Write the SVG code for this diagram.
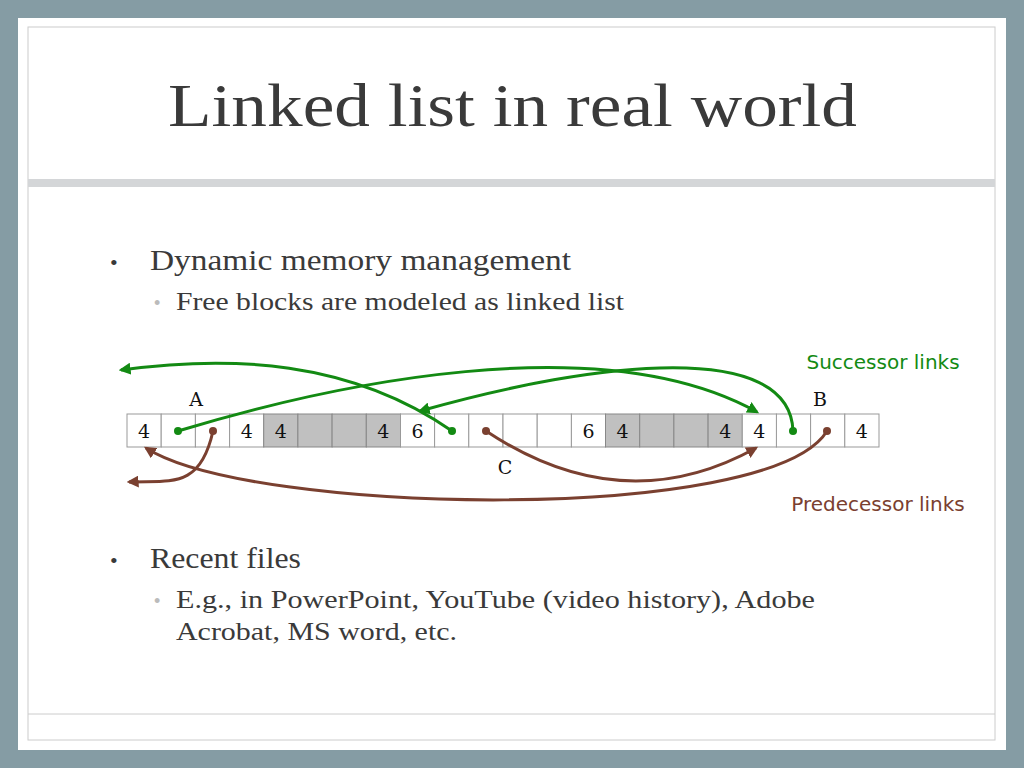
<svg xmlns="http://www.w3.org/2000/svg" width="1024" height="768" viewBox="0 0 1024 768">
<defs>
<style>
.c{fill:#fff;stroke:#999;stroke-width:1}
.g{fill:#c0c0c0;stroke:#888;stroke-width:1}
.n{font-family:"DejaVu Serif","Liberation Serif",serif;font-size:19px;fill:#111;text-anchor:middle}
.sl{fill:none;stroke:#138a13;stroke-width:3}
.pl{fill:none;stroke:#7a4030;stroke-width:3}
.t{font-family:"Liberation Serif",serif;fill:#3a3a3a}
</style>
<marker id="ag" viewBox="0 0 10 10" refX="8" refY="5" markerWidth="4" markerHeight="4" orient="auto"><path d="M0,0L10,5L0,10z" fill="#138a13"/></marker>
<marker id="ap" viewBox="0 0 10 10" refX="8" refY="5" markerWidth="4" markerHeight="4" orient="auto"><path d="M0,0L10,5L0,10z" fill="#7a4030"/></marker>
</defs>
<rect width="1024" height="768" fill="#859ca4"/>
<rect x="18" y="18" width="988" height="732" fill="#fff"/>
<rect x="28" y="27" width="967" height="713" fill="none" stroke="#ccc"/>
<rect x="28" y="179" width="967" height="8" fill="#d4d6d8"/>
<line x1="28" y1="714" x2="995" y2="714" stroke="#ccc"/>
<text class="t" x="168" y="126" font-size="62" textLength="689" lengthAdjust="spacingAndGlyphs">Linked list in real world</text>
<text class="t" x="110" y="270" font-size="22">•</text>
<text class="t" x="150" y="270" font-size="30" textLength="421" lengthAdjust="spacingAndGlyphs">Dynamic memory management</text>
<text x="154" y="309" font-size="18" fill="#bbb" font-family="Liberation Sans,sans-serif">•</text>
<text class="t" x="176" y="310" font-size="26" textLength="448" lengthAdjust="spacingAndGlyphs">Free blocks are modeled as linked list</text>
<text class="t" x="110" y="568" font-size="22">•</text>
<text class="t" x="150" y="568" font-size="30" textLength="151" lengthAdjust="spacingAndGlyphs">Recent files</text>
<text x="154" y="607" font-size="18" fill="#bbb" font-family="Liberation Sans,sans-serif">•</text>
<text class="t" x="176" y="608" font-size="26" textLength="639" lengthAdjust="spacingAndGlyphs">E.g., in PowerPoint, YouTube (video history), Adobe</text>
<text class="t" x="176" y="640" font-size="26" textLength="281" lengthAdjust="spacingAndGlyphs">Acrobat, MS word, etc.</text>
<g id="cells">
<rect class="c" x="127" y="414" width="34.2" height="33"/>
<rect class="c" x="161.2" y="414" width="34.2" height="33"/>
<rect class="c" x="195.4" y="414" width="34.2" height="33"/>
<rect class="c" x="229.6" y="414" width="34.2" height="33"/>
<rect class="g" x="263.7" y="414" width="34.2" height="33"/>
<rect class="g" x="297.9" y="414" width="34.2" height="33"/>
<rect class="g" x="332.1" y="414" width="34.2" height="33"/>
<rect class="g" x="366.3" y="414" width="34.2" height="33"/>
<rect class="c" x="400.5" y="414" width="34.2" height="33"/>
<rect class="c" x="434.6" y="414" width="34.2" height="33"/>
<rect class="c" x="468.8" y="414" width="34.2" height="33"/>
<rect class="c" x="503" y="414" width="34.2" height="33"/>
<rect class="c" x="537.2" y="414" width="34.2" height="33"/>
<rect class="c" x="571.4" y="414" width="34.2" height="33"/>
<rect class="g" x="605.5" y="414" width="34.2" height="33"/>
<rect class="g" x="639.7" y="414" width="34.2" height="33"/>
<rect class="g" x="673.9" y="414" width="34.2" height="33"/>
<rect class="g" x="708.1" y="414" width="34.2" height="33"/>
<rect class="c" x="742.3" y="414" width="34.2" height="33"/>
<rect class="c" x="776.4" y="414" width="34.2" height="33"/>
<rect class="c" x="810.6" y="414" width="34.2" height="33"/>
<rect class="c" x="844.8" y="414" width="34.2" height="33"/>
<text class="n" x="144" y="438">4</text>
<text class="n" x="246.7" y="438">4</text>
<text class="n" x="280.8" y="438">4</text>
<text class="n" x="383.4" y="438">4</text>
<text class="n" x="417.6" y="438">6</text>
<text class="n" x="588.5" y="438">6</text>
<text class="n" x="622.6" y="438">4</text>
<text class="n" x="725.2" y="438">4</text>
<text class="n" x="759.4" y="438">4</text>
<text class="n" x="861.9" y="438">4</text>
<text class="n" x="196" y="406">A</text>
<text class="n" x="820" y="406">B</text>
<text class="n" x="505" y="474">C</text>
</g>
<g id="connectors">
<path class="sl" d="M178,431 C330,385 600,325 757,412" marker-end="url(#ag)"/>
<path class="sl" d="M793,431 C790,340 600,360 420,411" marker-end="url(#ag)"/>
<path class="sl" d="M452,431 C350,360 230,355 121,370" marker-end="url(#ag)"/>
<path class="pl" d="M213,431 C200,490 170,480 129,482" marker-end="url(#ap)"/>
<path class="pl" d="M486,431 C590,500 680,490 756,448" marker-end="url(#ap)"/>
<path class="pl" d="M827,431 C770,525 250,515 146,448" marker-end="url(#ap)"/>
<circle cx="178" cy="431" r="4" fill="#138a13"/>
<circle cx="452" cy="431" r="4" fill="#138a13"/>
<circle cx="793" cy="431" r="4" fill="#138a13"/>
<circle cx="213" cy="431" r="4" fill="#7a4030"/>
<circle cx="486" cy="431" r="4" fill="#7a4030"/>
<circle cx="827" cy="431" r="4" fill="#7a4030"/>
</g>
<text x="883" y="369" font-size="20" fill="#138a13" font-family="Comic Sans MS,DejaVu Sans,sans-serif" text-anchor="middle">Successor links</text>
<text x="878" y="511" font-size="20" fill="#7a4030" font-family="Comic Sans MS,DejaVu Sans,sans-serif" text-anchor="middle">Predecessor links</text>
</svg>
